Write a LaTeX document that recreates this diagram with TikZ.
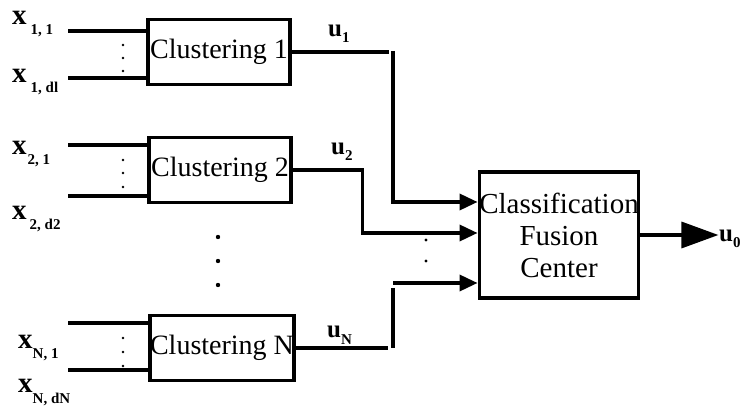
\documentclass[tikz,border=0pt]{standalone}
\usepackage{fontspec}
\setmainfont{Liberation Serif}
\usetikzlibrary{arrows.meta}
\newcommand{\xin}[2]{{\fontsize{29}{29}\selectfont\bfseries x\hspace{#1pt}\raisebox{-10pt}{\fontsize{15}{15}\selectfont #2}}}
\newcommand{\uout}[1]{{\fontsize{25}{25}\selectfont\bfseries u\raisebox{-6pt}{\fontsize{15}{15}\selectfont #1}}}
\begin{document}
\begin{tikzpicture}[x=1pt,y=-1pt,
                    line/.style = {line width=3.4pt},
                    arrow/.style = {line width=3.4pt,-{Triangle[length=18pt,width=16pt]}},
                    block/.style = {draw,line width=3.4pt,inner sep=0pt,minimum width=142pt,minimum height=65pt,font=\fontsize{28}{30}\selectfont},
                    lab/.style = {anchor=base west,inner sep=0pt}]
                    \useasboundingbox (0,0) rectangle (740,406);

                    \node[block] (c1) at (219,52)  {Clustering 1};
                    \node[block] (c2) at (220,170) {Clustering 2};
                    \node[block] (cN) at (222,348) {Clustering N};
                    \node[draw,line width=3.4pt,inner sep=0pt,minimum width=159pt,minimum height=126pt,align=center,
                          font=\fontsize{29}{32}\selectfont] (fusion) at (559,235) {Classification\\Fusion\\Center};

                    \node[lab] (x11) at (12,25)  {\xin{4}{1, 1}};
                    \node[lab] (x1d) at (12,83)  {\xin{4}{1, dl}};
                    \node[lab] (x21) at (12,155) {\xin{1}{2, 1}};
                    \node[lab] (x2d) at (12,220) {\xin{3}{2, d2}};
                    \node[lab] (xN1) at (18,349) {\xin{0}{N, 1}};
                    \node[lab] (xNd) at (18,393) {\xin{0}{N, dN}};

                    \coordinate (in11) at (68,31);
                    \coordinate (in1d) at (68,78);
                    \coordinate (in21) at (68,145);
                    \coordinate (in2d) at (68,196);
                    \coordinate (inN1) at (68,323);
                    \coordinate (inNd) at (68,370);

                    \draw[line] (in11) -- (in11 -| c1.west);
                    \draw[line] (in1d) -- (in1d -| c1.west);
                    \draw[line] (in21) -- (in21 -| c2.west);
                    \draw[line] (in2d) -- (in2d -| c2.west);
                    \draw[line] (inN1) -- (inN1 -| cN.west);
                    \draw[line] (inNd) -- (inNd -| cN.west);

                    \fill (123,45)  circle (1.3pt) (123,58)  circle (1.3pt) (123,71)  circle (1.3pt);
                    \fill (123,160) circle (1.3pt) (123,173) circle (1.3pt) (123,187) circle (1.3pt);
                    \fill (123,338) circle (1.3pt) (123,352) circle (1.3pt) (123,366) circle (1.3pt);
                    \fill (218,237) circle (2.2pt) (218,261) circle (2.2pt) (218,285) circle (2.2pt);
                    \fill (426,240) circle (1.6pt) (426,261) circle (1.6pt);

                    \coordinate (bus1) at (393,51);
                    \coordinate (busNtop) at (393,288);
                    \coordinate (busN) at (393,283);

                    \draw[line] (c1.east) -- ++(97,0);
                    \draw[arrow] (bus1) |- ([yshift=33pt]fusion.west);

                    \draw[arrow] (c2.east) -- ++(70,0) |- ([yshift=2pt]fusion.west);

                    \draw[line] (cN.east) -- ++(92,0);
                    \draw[line] (busNtop) -- (busNtop |- cN.east);
                    \draw[arrow] (busN) -- ([yshift=-48pt]fusion.west);

                    \draw[line width=3.4pt,-{Triangle[length=37pt,width=26pt]}] (fusion.east) -- ++(78,0) coordinate (out);

                    \node[lab] (u1) at (328,37)  {\uout{1}};
                    \node[lab] (u2) at (331,155) {\uout{2}};
                    \node[lab] (uN) at (327,338) {\uout{N}};
                    \node[lab] (u0) at (719,242) {\uout{0}};
                \end{tikzpicture}
\end{document}
